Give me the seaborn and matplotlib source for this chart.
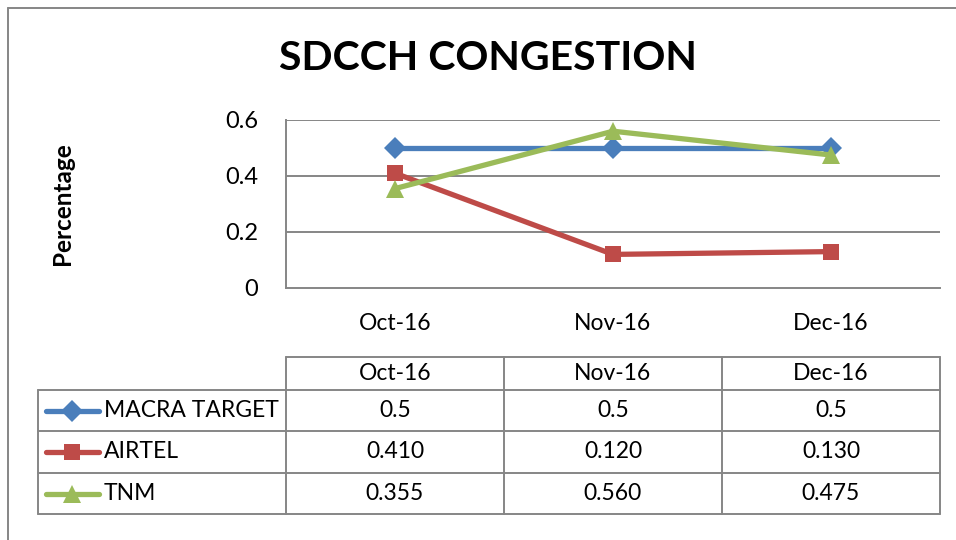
import matplotlib
matplotlib.use("Agg")
import matplotlib.pyplot as plt
import seaborn as sns
import pandas as pd
from matplotlib.lines import Line2D

# ================================================================
# DATA
# ================================================================
TITLE = "SDCCH CONGESTION"
Y_LABEL = "Percentage"
MONTHS = ["Oct-16", "Nov-16", "Dec-16"]
SERIES = ["MACRA TARGET", "AIRTEL", "TNM"]

MACRA_TARGET = [0.5, 0.5, 0.5]
AIRTEL = [0.410, 0.120, 0.130]
TNM = [0.355, 0.560, 0.475]

# how each row is printed in the data table
TABLE_FORMATS = ["{:.1f}", "{:.3f}", "{:.3f}"]
Y_TICKS = [0, 0.2, 0.4, 0.6]
Y_TICK_LABELS = ["0", "0.2", "0.4", "0.6"]

COLORS = ["#4A7EBB", "#BE4B48", "#9BBB59"]
MARKERS = ["D", "s", "^"]
MARKER_SIZES = [11, 12, 13]
GRID = "#868686"
FS = 16.5

# ================================================================
# FIGURE
# ================================================================
sns.set_theme(style="white")
plt.rcParams["font.family"] = ["Lato", "DejaVu Sans"]
plt.rcParams["text.color"] = "black"
plt.rcParams["xtick.color"] = "black"
plt.rcParams["ytick.color"] = "black"

W, H = 956, 540
fig = plt.figure(figsize=(W / 100, H / 100), dpi=100)


def fx(px):
    return px / W


def fy(py):
    return 1 - py / H


# outer chart frame (right and bottom edges fall outside the picture)
frame = dict(transform=fig.transFigure, color=GRID, linewidth=1.4)
fig.lines.append(Line2D([fx(8), 1], [fy(8)] * 2, **frame))
fig.lines.append(Line2D([fx(8)] * 2, [fy(8), 0], **frame))

df = pd.DataFrame({
    "month": MONTHS * 3,
    "value": MACRA_TARGET + AIRTEL + TNM,
    "series": [s for s in SERIES for _ in MONTHS],
})

ax = fig.add_axes([fx(286), fy(288), fx(940) - fx(286), fy(120) - fy(288)])
sns.lineplot(data=df, x="month", y="value", hue="series", style="series",
             palette=COLORS, markers=MARKERS, dashes=False, linewidth=3.8,
             markeredgewidth=0, legend=False, ax=ax, sort=False)

# per-series marker sizes
for line, ms in zip(ax.get_lines(), MARKER_SIZES):
    line.set_markersize(ms)

ax.set_xlim(-0.5, len(MONTHS) - 0.5)
ax.set_ylim(0, 0.6)
ax.set_yticks(Y_TICKS)
ax.set_yticklabels(Y_TICK_LABELS, fontsize=17)
ax.tick_params(axis="y", pad=20, length=0)
ax.tick_params(axis="x", labelsize=FS, pad=18, length=0)
ax.set_xlabel("")
ax.set_ylabel("")
for y in Y_TICKS[1:]:
    ax.axhline(y, color=GRID, linewidth=1.4, zorder=0)
for side in ["top", "right"]:
    ax.spines[side].set_visible(False)
for side in ["left", "bottom"]:
    ax.spines[side].set_color(GRID)
    ax.spines[side].set_linewidth(1.4)

fig.text(fx(488), fy(58), TITLE, ha="center", va="center",
         fontsize=29.5, fontweight="bold")
fig.text(fx(62), fy(204), Y_LABEL, ha="center", va="center",
         rotation=90, fontsize=17.5, fontweight="bold")

# ================================================================
# DATA TABLE
# ================================================================
col_x = [38, 286, 504, 722, 940]
row_y = [357, 390, 431, 473, 514]
tbl = dict(transform=fig.transFigure, color=GRID, linewidth=1.4)

# header row only spans the month columns
fig.lines.append(Line2D([fx(286), fx(940)], [fy(row_y[0])] * 2, **tbl))
for y in row_y[1:]:
    fig.lines.append(Line2D([fx(38), fx(940)], [fy(y)] * 2, **tbl))
fig.lines.append(Line2D([fx(38)] * 2, [fy(row_y[1]), fy(row_y[-1])], **tbl))
for x in col_x[1:]:
    fig.lines.append(Line2D([fx(x)] * 2, [fy(row_y[0]), fy(row_y[-1])], **tbl))

for j, m in enumerate(MONTHS):
    cx = (col_x[j + 1] + col_x[j + 2]) / 2
    fig.text(fx(cx), fy((row_y[0] + row_y[1]) / 2), m,
             ha="center", va="center", fontsize=FS)

rows = [MACRA_TARGET, AIRTEL, TNM]
for i, (name, vals, fmt) in enumerate(zip(SERIES, rows, TABLE_FORMATS)):
    cy = (row_y[i + 1] + row_y[i + 2]) / 2
    # legend key
    fig.lines.append(Line2D([fx(46), fx(99)], [fy(cy)] * 2,
                            transform=fig.transFigure, color=COLORS[i],
                            linewidth=3.8, solid_capstyle="round"))
    fig.lines.append(Line2D([fx(72)], [fy(cy)], transform=fig.transFigure,
                            marker=MARKERS[i], markersize=MARKER_SIZES[i],
                            color=COLORS[i], markeredgewidth=0))
    fig.text(fx(104), fy(cy), name, ha="left", va="center", fontsize=FS)
    for j, v in enumerate(vals):
        cx = (col_x[j + 1] + col_x[j + 2]) / 2
        fig.text(fx(cx), fy(cy), fmt.format(v),
                 ha="center", va="center", fontsize=FS)

fig.savefig("out.png", dpi=100)
plt.close(fig)
